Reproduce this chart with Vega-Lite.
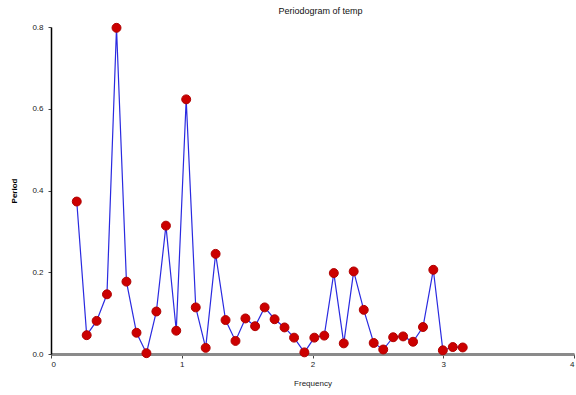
{
  "$schema": "https://vega.github.io/schema/vega-lite/v6.json",
  "autosize": {"type": "none"},
  "width": 523,
  "height": 327,
  "padding": {"left": 51, "top": 27, "right": 2, "bottom": 41},
  "background": "white",
  "title": {"text": "Periodogram of temp", "fontSize": 9, "fontWeight": "normal", "font": "Liberation Sans", "color": "#111", "anchor": "middle", "offset": 5, "dx": 8},
  "config": {"view": {"stroke": null}, "font": "Liberation Sans"},
  "data": {"values": [
    {"f": 0.197, "p": 0.373}, {"f": 0.273, "p": 0.046}, {"f": 0.349, "p": 0.081}, {"f": 0.428, "p": 0.146},
    {"f": 0.501, "p": 0.798}, {"f": 0.577, "p": 0.177}, {"f": 0.654, "p": 0.052}, {"f": 0.730, "p": 0.002},
    {"f": 0.806, "p": 0.104}, {"f": 0.879, "p": 0.314}, {"f": 0.958, "p": 0.057}, {"f": 1.034, "p": 0.623},
    {"f": 1.107, "p": 0.114}, {"f": 1.183, "p": 0.015}, {"f": 1.259, "p": 0.245}, {"f": 1.335, "p": 0.083},
    {"f": 1.411, "p": 0.032}, {"f": 1.487, "p": 0.087}, {"f": 1.561, "p": 0.068}, {"f": 1.634, "p": 0.114},
    {"f": 1.710, "p": 0.085}, {"f": 1.786, "p": 0.065}, {"f": 1.859, "p": 0.040}, {"f": 1.938, "p": 0.004},
    {"f": 2.014, "p": 0.040}, {"f": 2.090, "p": 0.045}, {"f": 2.163, "p": 0.198}, {"f": 2.239, "p": 0.026},
    {"f": 2.315, "p": 0.202}, {"f": 2.392, "p": 0.108}, {"f": 2.468, "p": 0.027}, {"f": 2.541, "p": 0.011},
    {"f": 2.617, "p": 0.041}, {"f": 2.693, "p": 0.043}, {"f": 2.769, "p": 0.030}, {"f": 2.845, "p": 0.066},
    {"f": 2.924, "p": 0.206}, {"f": 2.997, "p": 0.009}, {"f": 3.073, "p": 0.017}, {"f": 3.149, "p": 0.016}
  ]},
  "encoding": {
    "x": {"field": "f", "type": "quantitative", "scale": {"domain": [0, 4], "nice": false},
      "axis": {"title": "Frequency", "values": [0, 1, 2, 3, 4], "format": "d", "grid": false,
        "domainColor": "#8a8a8a", "domainWidth": 3, "tickColor": "#444", "tickSize": 4,
        "labelFontSize": 8, "labelColor": "#222", "titleFontSize": 8, "titleFontWeight": "normal", "titleColor": "#222", "titlePadding": 11, "labelPadding": 2}},
    "y": {"field": "p", "type": "quantitative", "scale": {"domain": [0, 0.8], "nice": false},
      "axis": {"title": "Period", "values": [0, 0.2, 0.4, 0.6, 0.8], "format": ".1f", "grid": false,
        "domainColor": "#000", "domainWidth": 1.5, "tickColor": "#444", "tickSize": 3,
        "labelFontSize": 8, "labelColor": "#222", "labelPadding": 5, "titleFontSize": 8, "titleFontWeight": "bold", "titleColor": "#000", "titlePadding": 13}}
  },
  "layer": [
    {"mark": {"type": "line", "color": "#2a2ae0", "strokeWidth": 1.2, "clip": false}},
    {"mark": {"type": "point", "filled": true, "color": "#cc0000", "size": 80, "opacity": 1, "stroke": "#b00000", "strokeWidth": 1, "clip": false}}
  ]
}
